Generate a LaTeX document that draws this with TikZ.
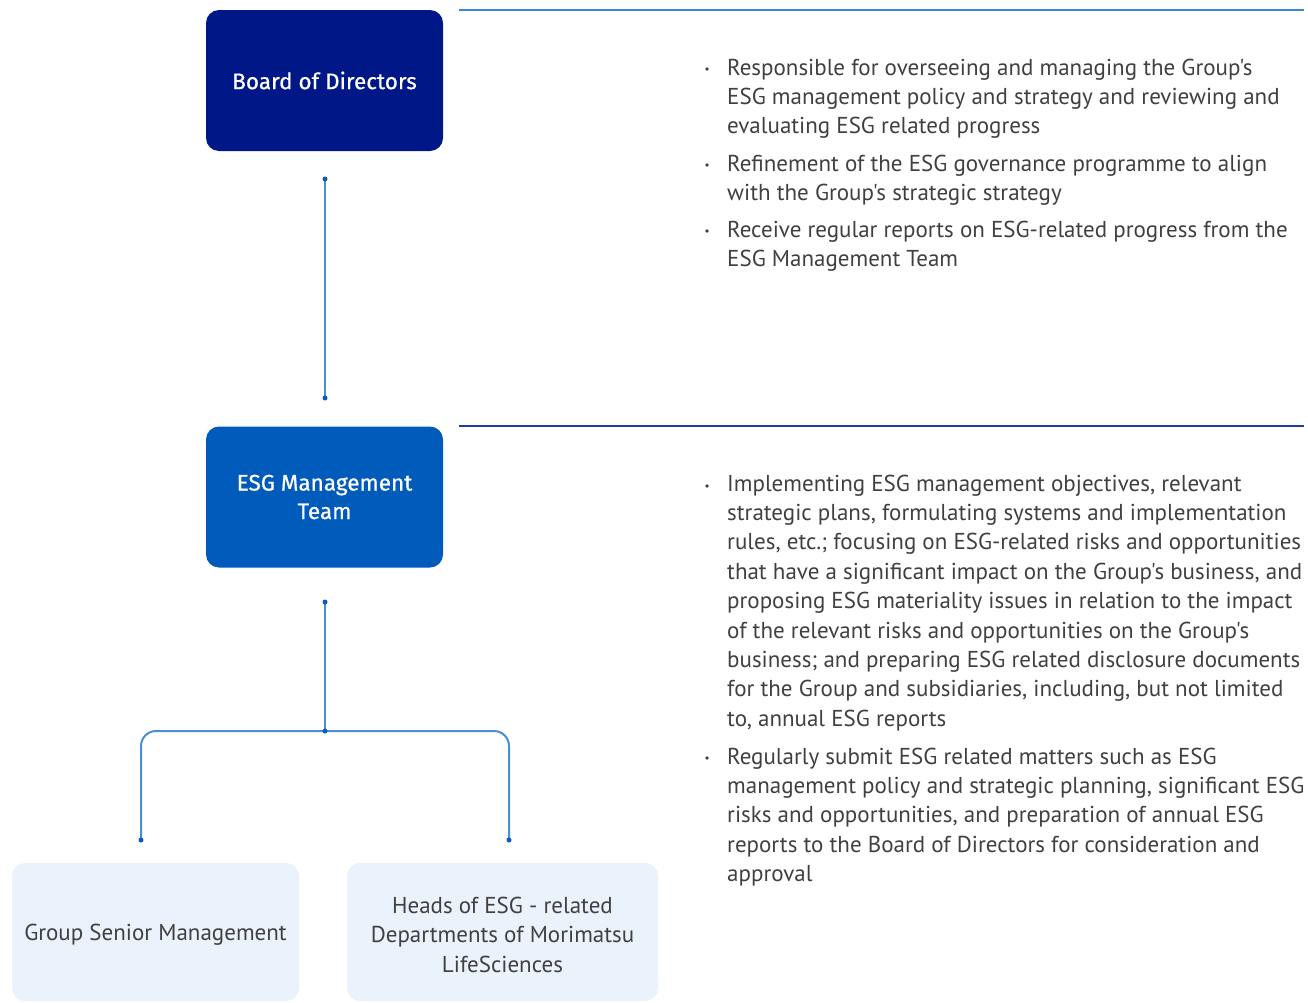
\documentclass[tikz,border=0pt]{standalone}
\usepackage{fontspec}
\setmainfont{PT Sans}[Ligatures=TeXOff]
\newfontfamily\headfont[FakeBold=0.6]{Fira Sans}
\begin{document}
\definecolor{navy}{RGB}{0,24,135}
\definecolor{midblue}{RGB}{0,91,187}
\definecolor{paleblue}{RGB}{234,242,251}
\definecolor{linkblue}{RGB}{74,143,212}
\definecolor{dotblue}{RGB}{10,92,190}
\definecolor{ruleblue}{RGB}{58,134,212}
\definecolor{ruledark}{RGB}{32,58,166}
\definecolor{bodygray}{RGB}{64,64,64}
\begin{tikzpicture}[x=1pt,y=-1pt,
  headbox/.style={rounded corners=13pt, minimum width=237pt, minimum height=141pt,
    inner sep=0pt, text=white, align=center,
    font=\headfont\fontsize{22.5}{28.5}\selectfont},
  unitbox/.style={rounded corners=13pt, fill=paleblue, inner sep=0pt},
  unittext/.style={align=center, inner sep=0pt, text=bodygray,
    font=\fontsize{23}{29.5}\selectfont},
  link/.style={draw=linkblue, line width=2pt},
  jointdot/.style={circle, fill=dotblue, inner sep=0pt, minimum size=5pt},
  duty/.style={anchor=north west, align=left, inner sep=0pt, text=bodygray,
    font=\fontsize{23}{29.4}\selectfont},
  bulletdot/.style={circle, fill=bodygray, inner sep=0pt, minimum size=3.6pt}]
\useasboundingbox (0,0) rectangle (1308,1002);
\fill[white] (0,0) rectangle (1308,1002);

% governance bodies
\node[headbox, fill=navy] (board) at (324.5,80.5) {Board of Directors};
\node[headbox, fill=midblue] (esg) at (324.5,497) {ESG Management\\Team};
\node[unitbox, minimum width=287pt, minimum height=138pt] (senior) at (155.5,932) {};
\node[unitbox, minimum width=311pt, minimum height=138pt] (heads) at (502.5,932) {};
\node[unittext] (seniortext) at ([yshift=-2.5pt]senior.center) {Group Senior Management};
\node[unittext] (headstext) at ([yshift=-2.5pt]heads.center)
  {Heads of ESG - related\\Departments of Morimatsu\\LifeSciences};

% section rules
\coordinate (r1a) at (459,10);  \coordinate (r1b) at (1304,10);
\coordinate (r2a) at (459,426); \coordinate (r2b) at (1304,426);
\draw[ruleblue, line width=1.5pt] (r1a) -- (r1b);
\draw[ruledark, line width=1.2pt] (r2a) -- (r2b);

% reporting lines
\coordinate (c1) at (325,179);
\coordinate (c2) at (325,398);
\coordinate (c3) at (325,602);
\coordinate (hub) at (325,731);
\coordinate (leftend) at (141,840);
\coordinate (rightend) at (509,840);
\draw[link] (c1) -- (c2);
\draw[link] (c3) -- (hub);
\draw[link, rounded corners=15pt] (leftend) -- (leftend |- hub) -- (rightend |- hub) -- (rightend);
\foreach \p in {c1,c2,c3,hub,leftend,rightend} \node[jointdot] at (\p) {};

% duties of the board
\node[duty] (d1) at (727,54.4) {\strut Responsible for overseeing and managing the Group's\\ESG management policy and strategy and reviewing and\\evaluating ESG related progress};
\node[duty] (d2) at (727,150.4) {\strut Refinement of the ESG governance programme to align\\with the Group's strategic strategy};
\node[duty] (d3) at (727,216.4) {\strut Receive regular reports on ESG-related progress from the\\ESG Management Team};

% duties of the management team
\node[duty] (d4) at (727,470.4) {\strut Implementing ESG management objectives, relevant\\strategic plans, formulating systems and implementation\\rules, etc.; focusing on ESG-related risks and opportunities\\that have a significant impact on the Group's business, and\\proposing ESG materiality issues in relation to the impact\\of the relevant risks and opportunities on the Group's\\business; and preparing ESG related disclosure documents\\for the Group and subsidiaries, including, but not limited\\to, annual ESG reports};
\node[duty] (d5) at (727,743.4) {\strut Regularly submit ESG related matters such as ESG\\management policy and strategic planning, significant ESG\\risks and opportunities, and preparation of annual ESG\\reports to the Board of Directors for consideration and\\approval};

\foreach \y in {69,165,231,486,758} \node[bulletdot] at (707,\y) {};
\end{tikzpicture}
\end{document}
